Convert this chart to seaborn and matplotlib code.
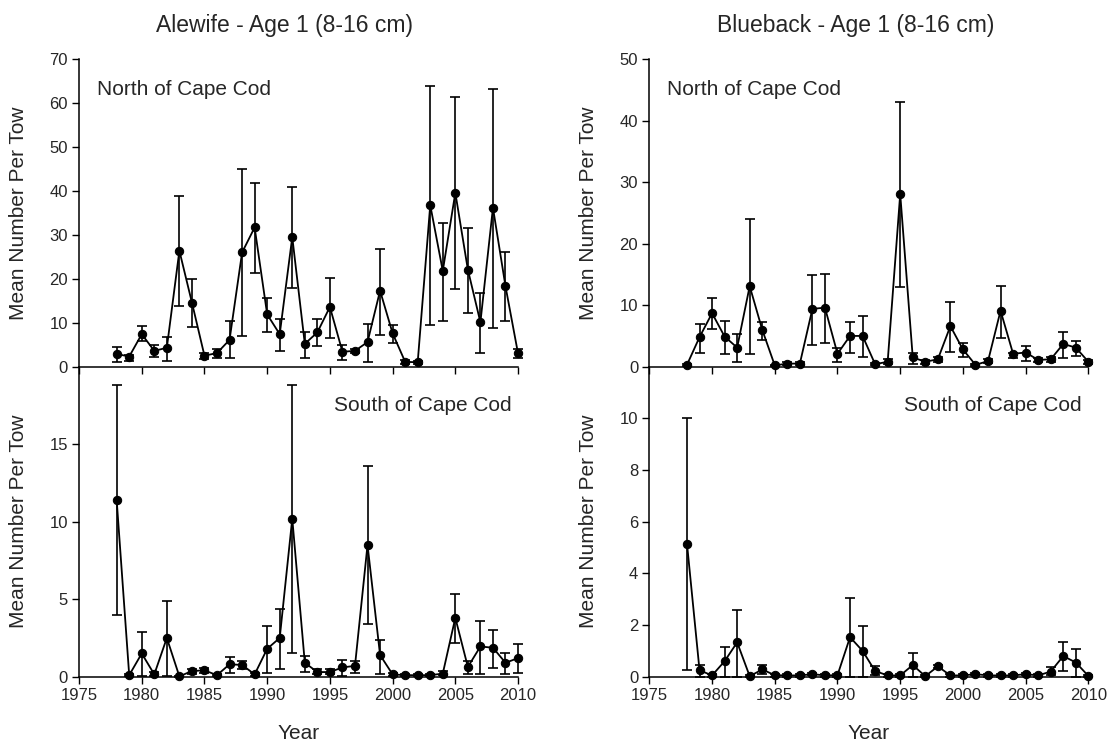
import pandas as pd
import seaborn as sns
import matplotlib.pyplot as plt

YEARS = list(range(1978, 2011))

ALE_N = [2.9, 2.3, 7.4, 3.6, 4.3, 26.4, 14.6, 2.5, 3.1, 6.1, 26.0, 31.7, 11.9, 7.4, 29.5, 5.2, 7.8,
         13.6, 3.4, 3.6, 5.6, 17.3, 7.6, 1.1, 1.0, 36.8, 21.8, 39.6, 22.1, 10.1, 36.2, 18.3, 3.0]
ALE_N_LO = [1.1, 1.4, 5.8, 2.1, 1.4, 13.8, 9.0, 1.7, 1.9, 1.9, 7.0, 21.3, 7.8, 3.6, 18.0, 1.9, 4.6,
            6.5, 1.5, 3.0, 1.1, 7.2, 5.3, 0.5, 0.5, 9.5, 10.4, 17.6, 12.3, 3.0, 8.7, 10.3, 1.9]
ALE_N_HI = [4.4, 2.7, 9.3, 4.9, 6.8, 38.9, 19.9, 3.0, 4.1, 10.3, 45.1, 41.8, 15.6, 10.9, 41.0, 8.0, 10.9,
            20.3, 4.9, 4.0, 9.7, 26.8, 9.4, 1.5, 1.4, 63.8, 32.6, 61.5, 31.5, 16.7, 63.3, 26.1, 4.0]

ALE_S = [11.4, 0.1, 1.5, 0.15, 2.5, 0.02, 0.37, 0.41, 0.1, 0.8, 0.76, 0.15, 1.8, 2.5, 10.2, 0.9, 0.3,
         0.3, 0.6, 0.7, 8.5, 1.4, 0.15, 0.1, 0.1, 0.1, 0.2, 3.8, 0.63, 1.95, 1.87, 0.9, 1.2]
ALE_S_LO = [4.0, 0.05, 0.05, 0.05, 0.05, 0.0, 0.2, 0.25, 0.05, 0.25, 0.5, 0.05, 0.25, 0.5, 1.5, 0.3, 0.15,
            0.15, 0.05, 0.25, 3.4, 0.2, 0.05, 0.05, 0.05, 0.05, 0.1, 2.2, 0.15, 0.2, 0.55, 0.2, 0.25]
ALE_S_HI = [18.8, 0.2, 2.9, 0.3, 4.9, 0.05, 0.5, 0.55, 0.15, 1.3, 1.0, 0.25, 3.3, 4.4, 18.8, 1.35, 0.5,
            0.5, 1.1, 1.0, 13.6, 2.4, 0.25, 0.2, 0.2, 0.2, 0.35, 5.35, 1.0, 3.6, 3.0, 1.5, 2.1]

BLU_N = [0.3, 4.8, 8.7, 4.9, 3.1, 13.1, 6.0, 0.2, 0.5, 0.5, 9.4, 9.6, 2.1, 5.0, 5.0, 0.4, 0.8,
         28.1, 1.5, 0.8, 1.2, 6.6, 2.8, 0.3, 0.9, 9.1, 2.1, 2.3, 1.1, 1.2, 3.7, 3.1, 0.8]
BLU_N_LO = [0.1, 2.3, 6.1, 2.1, 0.8, 2.0, 4.4, 0.1, 0.3, 0.3, 3.6, 3.9, 0.8, 2.2, 1.5, 0.2, 0.4,
            12.9, 0.5, 0.5, 0.8, 2.4, 1.5, 0.1, 0.6, 4.6, 1.4, 1.0, 0.7, 0.8, 1.4, 1.7, 0.5]
BLU_N_HI = [0.5, 7.0, 11.1, 7.5, 5.3, 24.0, 7.3, 0.3, 0.8, 0.8, 14.9, 15.0, 3.1, 7.3, 8.3, 0.6, 1.25,
            43.0, 2.2, 1.1, 1.6, 10.5, 3.8, 0.4, 1.2, 13.2, 2.3, 3.4, 1.4, 1.5, 5.6, 4.2, 1.1]

BLU_S = [5.15, 0.25, 0.05, 0.6, 1.33, 0.02, 0.28, 0.06, 0.05, 0.05, 0.1, 0.05, 0.06, 1.53, 1.0, 0.22, 0.05,
         0.05, 0.45, 0.02, 0.4, 0.05, 0.05, 0.1, 0.05, 0.05, 0.05, 0.1, 0.05, 0.2, 0.8, 0.55, 0.03]
BLU_S_LO = [0.25, 0.0, 0.0, 0.0, 0.0, 0.0, 0.1, 0.0, 0.0, 0.0, 0.05, 0.0, 0.0, 0.0, 0.0, 0.05, 0.0,
            0.0, 0.0, 0.0, 0.33, 0.0, 0.0, 0.05, 0.0, 0.0, 0.0, 0.05, 0.0, 0.05, 0.22, 0.0, 0.0]
BLU_S_HI = [10.0, 0.45, 0.1, 1.15, 2.57, 0.05, 0.45, 0.1, 0.1, 0.1, 0.15, 0.1, 0.1, 3.05, 1.98, 0.42, 0.1,
            0.1, 0.9, 0.05, 0.45, 0.1, 0.1, 0.15, 0.1, 0.1, 0.1, 0.15, 0.1, 0.38, 1.33, 1.07, 0.06]

sns.set_style("ticks")
plt.rcParams["font.family"] = ["Liberation Sans", "DejaVu Sans"]

fig = plt.figure(figsize=(11.1, 7.48), dpi=100)
W = 0.3955
axes = {
    "ale_n": fig.add_axes([0.0712, 0.5098, W, 0.411]),
    "ale_s": fig.add_axes([0.0712, 0.0953, W, 0.4145]),
    "blu_n": fig.add_axes([0.585, 0.5098, W, 0.411]),
    "blu_s": fig.add_axes([0.585, 0.0953, W, 0.4145]),
}
panels = [
    ("ale_n", ALE_N, ALE_N_LO, ALE_N_HI, (0, 70), range(0, 71, 10)),
    ("ale_s", ALE_S, ALE_S_LO, ALE_S_HI, (0, 20), range(0, 16, 5)),
    ("blu_n", BLU_N, BLU_N_LO, BLU_N_HI, (0, 50), range(0, 51, 10)),
    ("blu_s", BLU_S, BLU_S_LO, BLU_S_HI, (0, 12), range(0, 11, 2)),
]

for key, mean, lo, hi, ylim, yticks in panels:
    ax = axes[key]
    ax.patch.set_alpha(0)
    df = pd.DataFrame({"Year": YEARS, "mean": mean, "lo": lo, "hi": hi})
    ax.errorbar(df["Year"], df["mean"],
                yerr=[df["mean"] - df["lo"], df["hi"] - df["mean"]],
                fmt="none", ecolor="black", elinewidth=1.2, capsize=3.6, capthick=1.2,
                clip_on=False, zorder=2)
    sns.lineplot(data=df, x="Year", y="mean", ax=ax, color="black", linewidth=1.3,
                 marker="o", markersize=6, markeredgecolor="black", clip_on=False, zorder=3)
    ax.set_xlim(1975, 2010)
    ax.set_ylim(*ylim)
    ax.set_yticks(list(yticks))
    ax.set_xticks(range(1975, 2011, 5))
    sns.despine(ax=ax)
    ax.tick_params(direction="out", length=5, width=1, labelsize=12, color="black", pad=3)
    for s in ["left", "bottom"]:
        ax.spines[s].set_linewidth(1.1)
        ax.spines[s].set_color("black")
    ax.set_ylabel("Mean Number Per Tow", fontsize=15)
    if key.endswith("_n"):
        ax.set_xlabel("")
        ax.tick_params(axis="x", labelbottom=False)
    else:
        ax.set_xlabel("Year", fontsize=15, labelpad=15)

for key in ["ale_n", "ale_s", "blu_n", "blu_s"]:
    axes[key].yaxis.set_label_coords(-0.117, 0.5)

axes["ale_n"].text(0.04, 0.9, "North of Cape Cod", transform=axes["ale_n"].transAxes,
                   fontsize=15, va="center", ha="left")
axes["blu_n"].text(0.04, 0.9, "North of Cape Cod", transform=axes["blu_n"].transAxes,
                   fontsize=15, va="center", ha="left")
axes["ale_s"].text(0.985, 0.875, "South of Cape Cod", transform=axes["ale_s"].transAxes,
                   fontsize=15, va="center", ha="right")
axes["blu_s"].text(0.985, 0.875, "South of Cape Cod", transform=axes["blu_s"].transAxes,
                   fontsize=15, va="center", ha="right")

fig.text(0.256, 0.966, "Alewife - Age 1 (8-16 cm)", fontsize=16.5, ha="center", va="center")
fig.text(0.771, 0.966, "Blueback - Age 1 (8-16 cm)", fontsize=16.5, ha="center", va="center")

fig.savefig("out.png", dpi=100)
